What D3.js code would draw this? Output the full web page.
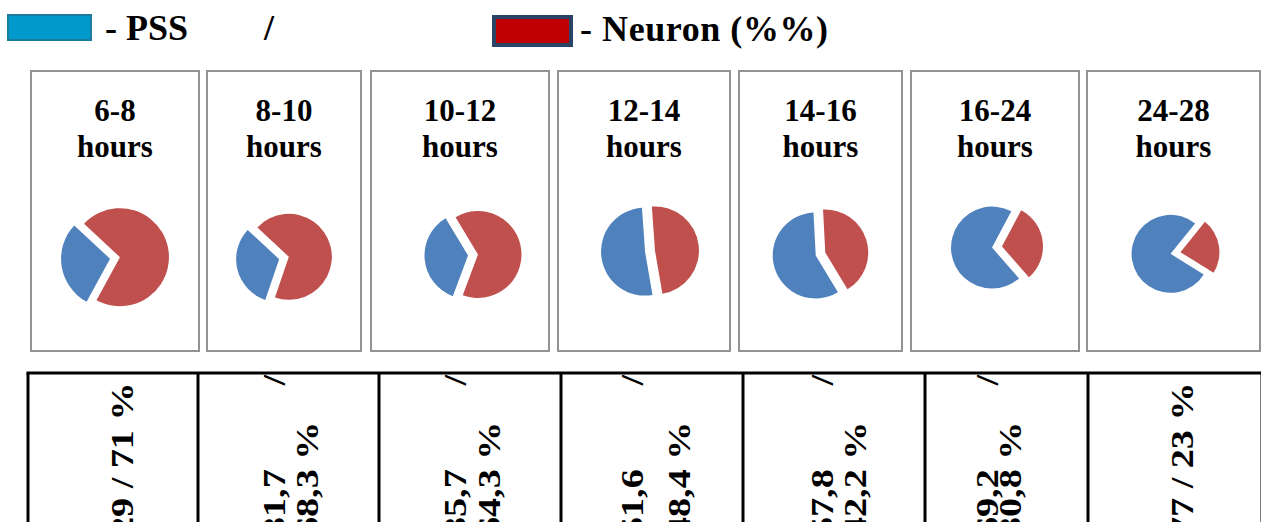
<!DOCTYPE html>
<html>
<head>
<meta charset="utf-8">
<script src="https://cdn.jsdelivr.net/npm/d3@7/dist/d3.min.js"></script>
<style>
body { margin: 0; background: #fff; }
svg text { font-family: "Liberation Serif", "Times New Roman", serif; font-weight: bold; fill: #000; }
</style>
</head>
<body>
<svg id="chart" width="1261" height="522"></svg>
<script>
// data
var hours = ["6-8", "8-10", "10-12", "12-14", "14-16", "16-24", "24-28"];
var pssShare = [29, 31.7, 35.7, 51.6, 57.8, 69.2, 77];
var neuronShare = [71, 68.3, 64.3, 48.4, 42.2, 30.8, 23];
var legendLabels = ["- PSS", "/", "- Neuron (%%)"];

// layout
var panelLeft = [31, 207, 371, 558, 739, 911, 1087],
    panelRight = [199, 361, 549, 730, 902, 1079, 1260];
var pieShift = [0, 0, 13, 6, 0, 2, 2],
    pieCy = [258, 258, 255, 251, 254, 247, 253],
    pieR = [49, 43, 43.5, 44, 43, 41, 39],
    redStart = [-47, -47, -31, -4, -3, 28, 39];   // degrees, clockwise from top
var colEdges = [28, 198, 379, 561, 743, 925, 1088, 1262];
var lineDx = [[20], [-4, 29], [-4, 30], [-9, 38], [-1, 32], [-9, 14], [18]];

var blue = "#4f81bd", red = "#c0504d";
var explode = 5;

var svg = d3.select("#chart");

// legend
svg.append("rect").attr("x", 8).attr("y", 15).attr("width", 83).attr("height", 25)
  .attr("fill", "#0099cc").attr("stroke", "#1a7b9c").attr("stroke-width", 2);
svg.append("rect").attr("x", 494).attr("y", 17).attr("width", 77).attr("height", 28)
  .attr("fill", "#c00000").attr("stroke", "#2b4365").attr("stroke-width", 4);
svg.append("text").attr("x", 105).attr("y", 40).attr("font-size", 36).text(legendLabels[0]);
svg.append("text").attr("x", 264).attr("y", 40).attr("font-size", 36).text(legendLabels[1]);
svg.append("text").attr("x", 580).attr("y", 41).attr("font-size", 36)
  .attr("textLength", 248).text(legendLabels[2]);

// panels with pies
var pie = d3.pie().sort(null).value(function(d) { return d.v; });
var arc = d3.arc().innerRadius(0);

hours.forEach(function(h, i) {
  var cx = (panelLeft[i] + panelRight[i]) / 2;
  svg.append("rect")
    .attr("x", panelLeft[i]).attr("y", 71)
    .attr("width", panelRight[i] - panelLeft[i]).attr("height", 280)
    .attr("fill", "#fff").attr("stroke", "#939393").attr("stroke-width", 2);

  var title = svg.append("text").attr("text-anchor", "middle").attr("font-size", 31);
  title.append("tspan").attr("x", cx).attr("y", 121).text(h);
  title.append("tspan").attr("x", cx).attr("y", 157).text("hours");

  var s = redStart[i] * Math.PI / 180;
  var slices = pie.startAngle(s).endAngle(s + 2 * Math.PI)([
    {v: neuronShare[i], c: red},
    {v: pssShare[i], c: blue}
  ]);
  arc.outerRadius(pieR[i]);
  svg.append("g")
    .attr("transform", "translate(" + (cx + pieShift[i]) + "," + pieCy[i] + ")")
    .selectAll("path")
    .data(slices)
    .enter().append("path")
    .attr("d", arc)
    .attr("fill", function(d) { return d.data.c; })
    .attr("transform", function(d) {
      var a = (d.startAngle + d.endAngle) / 2;
      return "translate(" + explode * Math.sin(a) + "," + (-explode * Math.cos(a)) + ")";
    });
});

// table underneath
var fmt = function(v) { return String(v).replace(".", ","); };
svg.append("line").attr("x1", colEdges[0] - 1.5).attr("x2", 1261)
  .attr("y1", 373).attr("y2", 373).attr("stroke", "#000").attr("stroke-width", 3);
colEdges.forEach(function(x) {
  svg.append("line").attr("x1", x).attr("x2", x).attr("y1", 373).attr("y2", 522)
    .attr("stroke", "#000").attr("stroke-width", 3);
});

// the cell text is set wide: font 31px stretched along the line
var textStart = 536, textEnd = 375, fs = 31, stretch = 1.23;
hours.forEach(function(h, i) {
  var mid = (colEdges[i] + colEdges[i + 1]) / 2;
  var full = fmt(pssShare[i]) + " / " + fmt(neuronShare[i]) + " %";
  var probe = svg.append("text").attr("font-size", fs).text(full);
  var tooLong = probe.node().getComputedTextLength() * stretch > textStart - textEnd;
  probe.remove();

  var put = function(x, y, str, anchor) {
    svg.append("text")
      .attr("font-size", fs)
      .attr("text-anchor", anchor)
      .attr("transform", "translate(" + x + "," + y + ") rotate(-90) scale(" + stretch + ",1)")
      .text(str);
  };
  if (!tooLong) {
    put(mid + lineDx[i][0], textStart, full, "start");
  } else {
    var x1 = mid + lineDx[i][0], x2 = mid + (lineDx[i][1] || lineDx[i][0] + 33);
    put(x1, textStart, fmt(pssShare[i]), "start");
    put(x1, textEnd, "/", "end");
    put(x2, textStart, fmt(neuronShare[i]) + " %", "start");
  }
});
</script>
</body>
</html>
